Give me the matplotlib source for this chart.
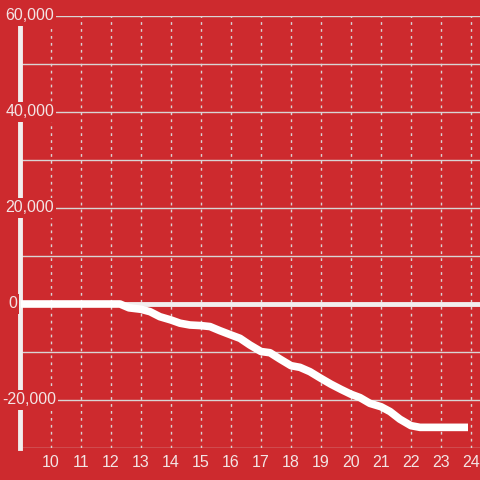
import matplotlib
matplotlib.use("Agg")
import matplotlib.pyplot as plt

# hour of day vs cumulative value
hours = [9.0, 12.3, 12.6, 13.0, 13.3, 13.63, 14.0, 14.3, 14.63, 15.0, 15.3, 15.63,
         16.0, 16.3, 16.63, 17.0, 17.3, 17.63, 18.0, 18.3, 18.63, 19.0, 19.33,
         19.67, 20.0, 20.3, 20.63, 21.0, 21.3, 21.63, 22.0, 22.3, 23.9]
values = [0, 0, -800, -1100, -1600, -2650, -3330, -4000, -4375, -4500, -4700, -5560,
          -6450, -7150, -8540, -9900, -10150, -11460, -12850, -13200, -14100, -15500, -16700,
          -17800, -18800, -19500, -20700, -21400, -22400, -24000, -25350, -25700, -25700]

x_ticks = list(range(10, 25))
y_grid = list(range(-30000, 60001, 10000))
y_labels = {60000: "60,000", 40000: "40,000", 20000: "20,000", 0: "0", -20000: "-20,000"}

BG = "#cd2a2e"
TXT = "#f3e4e4"
GRID = "#d9d4d4"

plt.rcParams["font.family"] = ["Liberation Sans", "DejaVu Sans"]

fig = plt.figure(figsize=(4.8, 4.8), dpi=100, facecolor=BG)
ax = fig.add_axes([20 / 480, 32 / 480, 460 / 480, 432 / 480])
ax.set_facecolor(BG)
ax.set_xlim(8.967, 24.3)
ax.set_ylim(-30000, 60000)

for s in ax.spines.values():
    s.set_visible(False)

for yv in y_grid:
    if yv == 0:
        continue
    ax.axhline(yv, color=GRID, lw=1.0, zorder=1)
for xv in x_ticks:
    ax.axvline(xv, color=GRID, lw=1.0, ls=(0, (2, 3)), zorder=1)

# y axis line and zero line
ax.axvline(8.967, color="#f2eeee", lw=3.5, zorder=3, clip_on=False)
ax.axhline(0, color="#f2eeee", lw=3.5, zorder=3)

ax.plot(hours, values, color="white", lw=5.5, solid_joinstyle="round",
        solid_capstyle="butt", zorder=4)

ax.set_xticks(x_ticks)
ax.set_xticklabels([str(t) for t in x_ticks], color=TXT, fontsize=11.5)
ax.tick_params(axis="x", length=0, pad=5)
ax.set_yticks([])

tr = ax.get_yaxis_transform()
for yv, lab in y_labels.items():
    xoff = -0.032 if not lab.startswith("-") else -0.039
    if lab == "0":
        xoff = -0.026
    ax.text(xoff, yv, lab, transform=tr, ha="left", va="center", color=TXT,
            fontsize=11.5, zorder=6, clip_on=False,
            bbox=dict(facecolor=BG, edgecolor="none", pad=1.5))

fig.savefig("out.png", dpi=100, facecolor=BG)
